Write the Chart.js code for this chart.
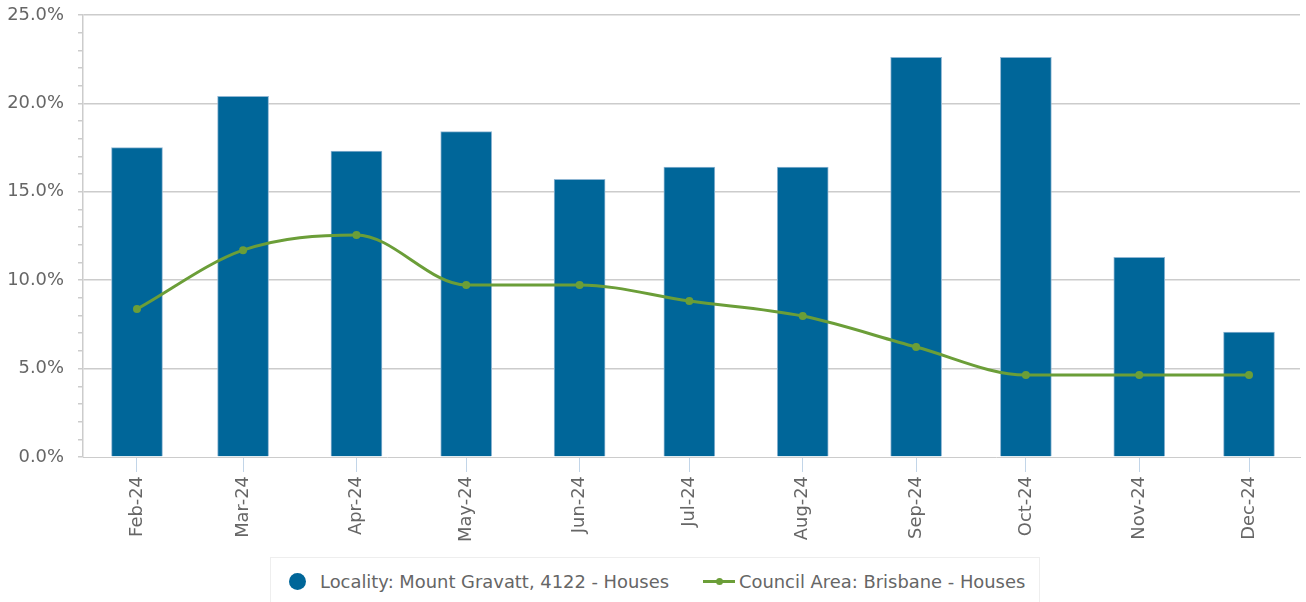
<!DOCTYPE html>
<html>
<head>
<meta charset="utf-8">
<script src="https://cdn.jsdelivr.net/npm/chart.js@4.4.0/dist/chart.umd.min.js"></script>
<style>
  html, body { margin: 0; padding: 0; background: #fff; }
  body { width: 1306px; height: 602px; position: relative; overflow: hidden; font-family: 'DejaVu Sans', sans-serif; }
  #wrap { position: absolute; left: 0; top: 0; width: 1306px; height: 556px; }
  #legend {
    position: absolute; left: 270px; top: 557px; width: 770px; height: 60px;
    border: 1px solid #eee; box-sizing: border-box;
    display: flex; justify-content: flex-start; align-items: flex-start;
    padding: 13px 0 0 18px;
    font-size: 17.9px; color: #666;
  }
  .item { display: flex; align-items: center; white-space: nowrap; }
  .item + .item { margin-left: 34px; }
  .dot { width: 17px; height: 17px; border-radius: 50%; margin-right: 14px; }
  .ln { position: relative; width: 32px; height: 3px; margin-right: 4px; }
  .ln i { position: absolute; left: 13px; top: -2px; width: 7px; height: 7px; border-radius: 50%; }
</style>
</head>
<body>
<div id="wrap"><canvas id="chart"></canvas></div>
<div id="legend"></div>
<script>
/* monthly % chart - locality vs council area */

const months = ['Feb-24', 'Mar-24', 'Apr-24', 'May-24', 'Jun-24', 'Jul-24',
                'Aug-24', 'Sep-24', 'Oct-24', 'Nov-24', 'Dec-24'];
const monthIdx = [1, 2, 3, 4, 5, 6, 7, 8, 9, 10, 11]; // 0 = Jan 2024
const localityVals = [17.5, 20.4, 17.3, 18.4, 15.7, 16.4, 16.4, 22.6, 22.6, 11.3, 7.07];
const councilVals  = [8.37, 11.7, 12.56, 9.73, 9.73, 8.82, 7.97, 6.22, 4.64, 4.64, 4.64];
const yTicks = [0, 5, 10, 15, 20, 25];

const localityLabel = 'Locality: Mount Gravatt, 4122 - Houses';
const councilLabel = 'Council Area: Brisbane - Houses';
const blue = '#006699';
const green = '#6b9e38';
const fontSize = 17.9;

// day of year for the 1st of each month, so spacing follows the calendar
const dayOf = m => (Date.UTC(2024, m, 1) - Date.UTC(2024, 0, 1)) / 86400000;
const xs = monthIdx.map(dayOf);

const ctx = document.getElementById('chart');

const chart = new Chart(ctx, {
  type: 'bar',
  data: {
    datasets: [
      {
        type: 'line',
        label: councilLabel,
        data: xs.map((x, i) => ({ x, y: councilVals[i] })),
        borderColor: green,
        backgroundColor: green,
        borderWidth: 3,
        pointRadius: 2.5,
        pointHoverRadius: 3,
        cubicInterpolationMode: 'monotone',
        order: 0
      },
      {
        type: 'bar',
        label: localityLabel,
        data: xs.map((x, i) => ({ x, y: localityVals[i] })),
        backgroundColor: blue,
        borderColor: '#8fb6d3',
        borderWidth: 1,
        barThickness: 51,
        order: 1
      }
    ]
  },
  options: {
    responsive: true,
    maintainAspectRatio: false,
    animation: false,
    layout: { padding: { top: 15, right: 0, left: 0, bottom: 0 } },
    plugins: {
      legend: { display: false },
      tooltip: { enabled: false }
    },
    scales: {
      x: {
        type: 'linear',
        min: xs[0] - 14.76,
        max: xs[xs.length - 1] + 13.94,
        offset: false,
        afterBuildTicks: s => { s.ticks = xs.map(v => ({ value: v })); },
        afterFit: s => { s.height = 99; s.paddingLeft = 0; s.paddingRight = 3; },
        ticks: {
          callback: (v, i) => months[i],
          minRotation: 90,
          maxRotation: 90,
          autoSkip: false,
          color: '#666',
          padding: 4,
          font: { family: 'DejaVu Sans', size: fontSize }
        },
        grid: { offset: false, drawOnChartArea: false, tickLength: 15, tickColor: '#c2d5e8' },
        border: { color: '#ccc', width: 1 }
      },
      y: {
        min: 0,
        max: 25,
        afterBuildTicks: s => {
          const t = [];
          for (let v = 0; v <= 25; v++) t.push({ value: v });
          s.ticks = t;
        },
        afterFit: s => { s.width = 83; s.paddingTop = 0; s.paddingBottom = 0; },
        ticks: {
          autoSkip: false,
          callback: v => yTicks.includes(v) ? v.toFixed(1) + '%' : '',
          color: '#666',
          padding: 14,
          font: { family: 'DejaVu Sans', size: fontSize }
        },
        grid: {
          color: c => yTicks.includes(c.tick.value) && c.tick.value !== 0 ? '#ccc' : 'rgba(0,0,0,0)',
          tickColor: '#ccc',
          tickLength: 5,
          lineWidth: 1.5
        },
        border: { color: '#ccc', width: 1.5 }
      }
    }
  }
});

// html legend built from the datasets
const legendEl = document.getElementById('legend');
legendEl.innerHTML = [chart.data.datasets[1], chart.data.datasets[0]].map(ds => ds.type === 'bar'
  ? `<div class="item"><span class="dot" style="background:${ds.backgroundColor}"></span>${ds.label}</div>`
  : `<div class="item"><span class="ln" style="background:${ds.borderColor}"><i style="background:${ds.borderColor}"></i></span>${ds.label}</div>`
).join('');
</script>
</body>
</html>
